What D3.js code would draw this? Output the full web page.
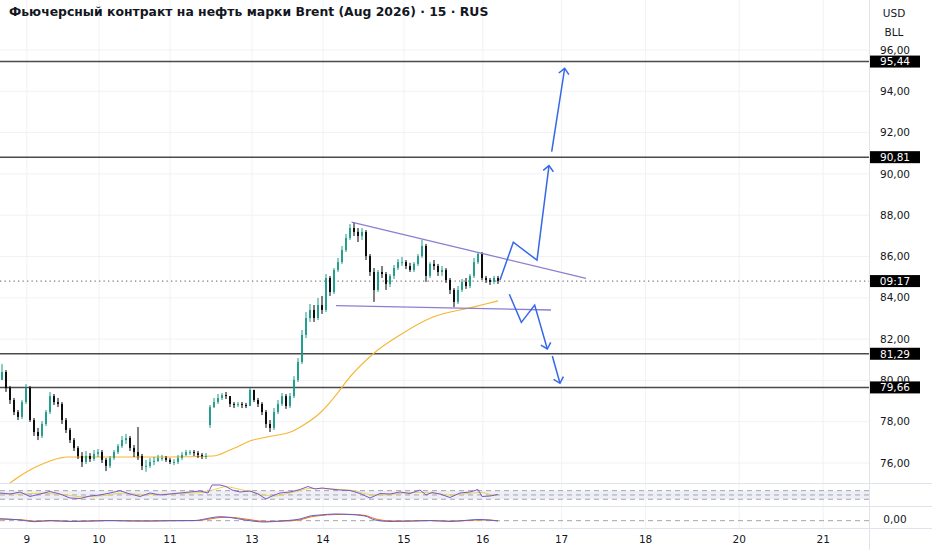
<!DOCTYPE html>
<meta charset="utf-8">
<script src="https://d3js.org/d3.v7.min.js"></script>
<style>
  body { margin: 0; background: #fff; }
  text { font-family: "DejaVu Sans", sans-serif; fill: #131722; }
</style>
<div id="chart"></div>
<script>
  // 15-min candles, one entry per bar
  const closes = [80.41,79.63,79.05,78.47,78.23,78.95,79.63,78.08,77.50,77.31,77.89,78.47,79.24,78.95,78.86,78.08,77.60,77.11,76.73,76.34,
    76.05,76.34,76.19,76.44,76.53,76.15,75.86,76.24,76.53,76.82,77.11,77.21,76.73,76.53,76.34,75.86,75.86,76.05,76.10,76.24,
    76.24,76.15,76.05,76.05,76.24,76.39,76.53,76.53,76.48,76.39,76.34,76.34,78.71,78.95,79.15,79.29,79.24,78.86,78.81,78.86,
    78.81,78.76,79.54,79.05,78.86,78.47,77.89,77.70,78.47,78.86,79.24,78.76,79.24,80.02,80.89,82.20,83.02,83.41,83.02,83.65,
    83.41,84.96,84.28,85.35,85.73,86.31,86.90,87.38,87.19,86.99,87.19,86.02,85.25,84.38,85.25,85.15,84.67,85.06,85.44,85.73,
    85.73,85.54,85.35,85.64,86.02,86.51,85.06,85.64,85.54,85.25,85.35,84.86,84.38,83.80,84.38,84.77,84.57,85.06,85.73,86.12,
    84.96,84.86,84.77,84.96,84.81];
  const highs = [80.79,80.50,79.73,79.15,78.57,79.05,79.82,79.73,78.18,77.70,78.03,78.57,79.44,79.34,79.15,78.95,78.18,77.70,77.21,76.82,
    76.53,76.58,76.48,76.63,76.68,76.63,76.24,76.34,76.63,76.92,77.31,77.41,77.31,76.87,77.74,76.44,76.15,76.24,76.29,76.39,
    76.39,76.34,76.24,76.19,76.39,76.53,76.63,76.63,76.63,76.58,76.48,76.48,78.81,79.15,79.34,79.39,79.44,79.24,78.95,78.95,
    78.95,78.91,79.63,79.54,79.15,78.95,78.57,78.08,78.66,79.05,79.39,79.34,79.39,80.21,81.08,82.44,83.31,83.70,83.65,83.99,
    84.09,85.15,85.06,85.44,85.93,86.51,87.09,87.57,87.67,87.38,87.38,87.28,86.12,85.44,85.35,85.54,85.25,85.15,85.59,85.88,
    85.98,85.83,85.69,85.73,86.12,86.80,86.61,85.73,85.83,85.64,85.54,85.44,84.96,84.47,84.57,84.91,84.96,85.15,85.93,86.22,
    86.22,85.06,84.96,85.06,85.06];
  const lows = [80.02,79.44,78.86,78.32,78.08,78.13,78.86,77.99,77.31,77.11,77.21,77.79,78.37,78.81,78.71,77.89,77.45,76.97,76.58,76.19,
    75.81,75.95,76.05,76.10,76.29,76.00,75.61,75.76,76.15,76.44,76.73,76.92,76.58,76.29,76.15,75.66,75.57,75.76,75.90,76.05,
    76.10,76.05,75.95,75.90,75.95,76.15,76.34,76.39,76.34,76.24,76.19,76.19,77.70,78.66,78.86,79.05,79.10,78.71,78.66,78.71,
    78.66,78.66,78.76,78.95,78.71,78.32,77.70,77.50,77.60,78.37,78.76,78.62,78.66,79.15,79.92,80.79,82.05,82.83,82.83,82.92,
    83.22,83.31,84.09,84.18,85.25,85.64,86.22,86.80,86.99,86.70,86.80,85.83,85.06,83.80,84.28,84.96,84.38,84.52,84.91,85.35,
    85.54,85.39,85.25,85.25,85.54,85.93,84.77,84.96,85.35,85.06,85.06,84.72,84.18,83.55,83.70,84.28,84.43,84.47,84.96,85.64,
    84.86,84.72,84.62,84.67,84.67];
  const firstOpen = 80.02;
  const gapBar = 52, gapOpen = 77.84;   // session gap after the weekend

  // moving average on price [bar, value]
  const ma = [[2,75.03],[4.5,75.37],[7,75.66],[9.5,75.90],[12,76.10],[14.5,76.24],[16.25,76.29],[24.5,76.29],[32.75,76.29],
    [42,76.29],[52.75,76.34],[57,76.63],[62.75,77.11],[66.25,77.26],[72.75,77.55],[75,77.79],[79.5,78.42],[84.5,79.54],
    [85.75,79.87],[92.75,81.28],[99.5,82.20],[107.75,83.07],[117.75,83.55],[124,83.85]];

  // day labels and the bar where each day starts
  const dayLabels = ["9","10","11","13","14","15","16","17","18","20","21"];
  const dayBars = [6.2, 24.25, 42, 62.5, 80.25, 100.5, 120.2, 139.9, 160.9, 184.3, 205.3];

  const priceTicks = [76,78,80,82,84,86,88,90,92,94,96];
  const levels = [95.44, 90.81, 81.29, 79.66];
  const countdown = "09:17";

  // drawings: triangle and projected paths [bar, price]
  const triUpper = [[87.4,87.67],[146,84.94]];
  const triLower = [[83.5,83.62],[137.25,83.41]];
  const upPath1 = [[124.5,84.86],[127.83,86.69],[133.75,85.82],[136.75,90.40]];
  const upPath2 = [[137.42,91.08],[140.67,95.11]];
  const downPath1 = [[126.83,84.17],[129.83,82.81],[133.17,83.65],[136.33,81.52]];
  const downPath2 = [[137.58,81.18],[139.5,79.86]];

  // RSI and its average [bar, value]
  const rsi = [[-0.5,59.1],[2,54.4],[4.5,63.7],[7,42.8],[9.5,54.4],[12,66.0],[14.5,54.4],[17,35.8],[19.5,33.5],[22,45.1],
    [24.5,49.8],[27,59.1],[29.5,69.8],[32,54.4],[34.5,42.8],[37,59.1],[39.5,49.8],[42,54.4],[44.5,59.1],[47,63.7],[49.5,68.4],
    [51.5,59.1],[52.5,96.3],[54.5,96.3],[56,89.3],[57.5,73.0],[59.5,63.7],[62,68.4],[64,54.4],[66,31.2],[67.5,45.1],[69.5,59.1],
    [72,63.7],[74.5,75.3],[76.5,89.3],[78.25,77.7],[80,82.3],[82,77.7],[84.5,73.0],[87,70.7],[89.5,56.7],[92,35.8],[94.5,56.7],
    [97,54.4],[99.5,63.7],[102,56.7],[104.5,73.0],[106,49.8],[107.5,61.4],[109.5,54.4],[112,38.1],[114.5,59.1],[117,63.7],
    [119,75.3],[120,42.8],[122,45.1],[124,52.1]];
  const rsiMa = [[-0.5,56],[5,55],[10,58],[15,52],[20,42],[25,46],[30,58],[35,52],[40,53],[45,57],[50,62],[53,75],[56,88],
    [59,78],[62,66],[65,52],[68,45],[71,55],[74,68],[77,80],[80,80],[84,76],[88,70],[92,52],[96,50],[100,58],[104,62],
    [108,58],[112,50],[116,56],[120,62],[122,52],[124,50]];

  // MACD line and signal
  const macdBars = [-0.5,4.5,8.25,12,17,22,27,32,37,42,48.25,52,54.5,57,60.75,65.75,69.5,74.5,77,79.5,83.25,87,90.75,93.25,97,102,107,112,117,119.5,124];
  const macdVals = [0.093,0.032,-0.049,0.008,-0.039,-0.016,0.008,-0.016,-0.016,0.0,0.008,0.126,0.188,0.15,0.032,-0.063,-0.016,0.079,0.221,0.269,0.316,0.292,0.221,0.032,-0.039,-0.016,0.008,-0.039,0.032,0.055,-0.016];
  const signalVals = [0.07,0.05,-0.02,-0.01,-0.025,-0.02,0.0,-0.005,-0.015,-0.005,0.0,0.08,0.15,0.16,0.08,-0.03,-0.03,0.04,0.17,0.24,0.29,0.30,0.25,0.09,-0.01,-0.02,0.0,-0.02,0.01,0.04,0.0];

  var W = 932, H = 550, plotW = 869;
  var mainBottom = 483, rsiTop = 483, rsiBottom = 506, macdBottom = 528;
  var upColor = "#1a9b88", downColor = "#000000";
  var fmt = function(v) { return d3.format(".2f")(v).replace(".", ","); };

  var svg = d3.select("#chart").append("svg")
      .attr("width", W).attr("height", H);

  var x = d3.scaleLinear().domain([-0.5, 216.75]).range([0, plotW]);
  var y = d3.scaleLinear().domain([76, 96]).range([463, 50]);
  var yRsi = d3.scaleLinear().domain([0, 100]).range([505.7, 484.2]);
  var yMacd = d3.scaleLinear().domain([-0.3, 0.6]).range([527, 508]);

  var defs = svg.append("defs");
  function clip(id, y0, y1) {
    defs.append("clipPath").attr("id", id).append("rect")
      .attr("x", 0).attr("y", y0).attr("width", plotW).attr("height", y1 - y0);
  }
  clip("cMain", 0, mainBottom);
  clip("cRsi", rsiTop, rsiBottom);
  clip("cMacd", rsiBottom, macdBottom);

  // grid
  var grid = svg.append("g");
  grid.selectAll(".vg").data(dayBars).enter().append("line")
    .attr("x1", function(d) { return x(d); }).attr("x2", function(d) { return x(d); })
    .attr("y1", 0).attr("y2", macdBottom)
    .attr("stroke", "#f0f2f6").attr("stroke-width", 1);
  grid.selectAll(".hg").data(priceTicks).enter().append("line")
    .attr("x1", 0).attr("x2", plotW)
    .attr("y1", function(d) { return y(d); }).attr("y2", function(d) { return y(d); })
    .attr("stroke", "#f0f2f6").attr("stroke-width", 1);

  // pane separators
  [mainBottom, rsiBottom, macdBottom].forEach(function(yy) {
    svg.append("line").attr("x1", 0).attr("x2", W).attr("y1", yy + 0.5).attr("y2", yy + 0.5)
      .attr("stroke", "#e0e3eb");
  });
  svg.append("line").attr("x1", plotW + 0.5).attr("x2", plotW + 0.5).attr("y1", 0).attr("y2", H)
    .attr("stroke", "#e0e3eb");

  var main = svg.append("g").attr("clip-path", "url(#cMain)");

  // levels
  main.selectAll(".lvl").data(levels).enter().append("line")
    .attr("x1", 0).attr("x2", plotW)
    .attr("y1", function(d) { return y(d); }).attr("y2", function(d) { return y(d); })
    .attr("stroke", "#4a4a4a").attr("stroke-width", 1.5);

  // current price dotted
  var last = closes[closes.length - 1];
  main.append("line").attr("x1", 0).attr("x2", plotW)
    .attr("y1", y(last)).attr("y2", y(last))
    .attr("stroke", "#7d7d7d").attr("stroke-width", 1.2).attr("stroke-dasharray", "1.3,3.2");

  // moving average
  var line = d3.line().x(function(d) { return x(d[0]); }).y(function(d) { return y(d[1]); }).curve(d3.curveMonotoneX);
  main.append("path").datum(ma).attr("d", line)
    .attr("fill", "none").attr("stroke", "#f5b631").attr("stroke-width", 1.1);

  // candles
  var candles = closes.map(function(c, i) {
    var o = i === 0 ? firstOpen : (i === gapBar ? gapOpen : closes[i - 1]);
    return {i: i, o: o, h: highs[i], l: lows[i], c: c};
  });
  var cg = main.append("g").selectAll("g").data(candles).enter().append("g");
  cg.append("line")
    .attr("x1", function(d) { return x(d.i); }).attr("x2", function(d) { return x(d.i); })
    .attr("y1", function(d) { return y(d.h); }).attr("y2", function(d) { return y(d.l); })
    .attr("stroke", function(d) { return d.c >= d.o ? upColor : downColor; })
    .attr("stroke-width", 1);
  cg.append("rect")
    .attr("x", function(d) { return x(d.i) - 0.9; })
    .attr("width", 1.8)
    .attr("y", function(d) { return y(Math.max(d.o, d.c)); })
    .attr("height", function(d) { return Math.max(1, Math.abs(y(d.o) - y(d.c))); })
    .attr("fill", function(d) { return d.c >= d.o ? upColor : downColor; });

  // triangle
  var straight = d3.line().x(function(d) { return x(d[0]); }).y(function(d) { return y(d[1]); });
  [triUpper, triLower].forEach(function(seg) {
    main.append("path").datum(seg).attr("d", straight)
      .attr("fill", "none").attr("stroke", "#8c7fd0").attr("stroke-width", 1.3);
  });

  // projected paths with open arrow heads
  function arrow(pts) {
    main.append("path").datum(pts).attr("d", straight)
      .attr("fill", "none").attr("stroke", "#3568e8").attr("stroke-width", 1.5)
      .attr("stroke-linejoin", "miter");
    var a = pts[pts.length - 2], b = pts[pts.length - 1];
    var ax = x(a[0]), ay = y(a[1]), bx = x(b[0]), by = y(b[1]);
    var ang = Math.atan2(by - ay, bx - ax);
    var len = 7.5, spread = 0.75;
    var head = [
      [bx - len * Math.cos(ang - spread), by - len * Math.sin(ang - spread)],
      [bx, by],
      [bx - len * Math.cos(ang + spread), by - len * Math.sin(ang + spread)]
    ];
    main.append("path").attr("d", d3.line()(head))
      .attr("fill", "none").attr("stroke", "#3568e8").attr("stroke-width", 1.5);
  }
  [upPath1, upPath2, downPath1, downPath2].forEach(arrow);

  // RSI pane
  var rsiG = svg.append("g").attr("clip-path", "url(#cRsi)");
  rsiG.append("rect").attr("x", 0).attr("width", plotW)
    .attr("y", yRsi(70)).attr("height", yRsi(30) - yRsi(70))
    .attr("fill", "#eeeef7");
  [70, 50, 30].forEach(function(v) {
    rsiG.append("line").attr("x1", 0).attr("x2", plotW).attr("y1", yRsi(v)).attr("y2", yRsi(v))
      .attr("stroke", "#a3a6ad").attr("stroke-width", 1).attr("stroke-dasharray", "5,4");
  });
  var rLine = d3.line().x(function(d) { return x(d[0]); }).y(function(d) { return yRsi(d[1]); });
  rsiG.append("path").datum(rsiMa).attr("d", rLine.curve(d3.curveMonotoneX))
    .attr("fill", "none").attr("stroke", "#e6d55c").attr("stroke-width", 1);
  rsiG.append("path").datum(rsi).attr("d", rLine.curve(d3.curveLinear))
    .attr("fill", "none").attr("stroke", "#7e57c2").attr("stroke-width", 1);

  // MACD pane
  var macdG = svg.append("g").attr("clip-path", "url(#cMacd)");
  macdG.append("line").attr("x1", 0).attr("x2", plotW).attr("y1", yMacd(0)).attr("y2", yMacd(0))
    .attr("stroke", "#a3a6ad").attr("stroke-width", 1).attr("stroke-dasharray", "5,4");
  var mLine = d3.line().x(function(d) { return x(macdBars[d]); }).curve(d3.curveMonotoneX);
  var idx = d3.range(macdBars.length);
  macdG.append("path").datum(idx).attr("d", mLine.y(function(d) { return yMacd(signalVals[d]); }))
    .attr("fill", "none").attr("stroke", "#ff6d00").attr("stroke-width", 1);
  macdG.append("path").datum(idx).attr("d", mLine.y(function(d) { return yMacd(macdVals[d]); }))
    .attr("fill", "none").attr("stroke", "#5b62d6").attr("stroke-width", 1);

  // right axis
  var ax = svg.append("g").attr("font-size", 10.5);
  ax.selectAll(".tk").data(priceTicks).enter().append("text")
    .attr("x", 895).attr("y", function(d) { return y(d); })
    .attr("dy", "0.35em").attr("text-anchor", "middle")
    .text(fmt);
  ax.append("text").attr("x", 895).attr("y", 519).attr("dy", "0.35em")
    .attr("text-anchor", "middle").text(fmt(0));
  ax.append("text").attr("x", 894).attr("y", 13).attr("dy", "0.35em").attr("text-anchor", "middle").text("USD");
  ax.append("text").attr("x", 894).attr("y", 32).attr("dy", "0.35em").attr("text-anchor", "middle").text("BLL");

  var tags = levels.map(function(v) { return {y: y(v), t: fmt(v)}; });
  tags.push({y: y(last), t: countdown});
  var tg = ax.selectAll(".tag").data(tags).enter().append("g");
  tg.append("rect").attr("x", 870).attr("width", 50)
    .attr("y", function(d) { return d.y - 6; }).attr("height", 12)
    .attr("fill", "#000");
  tg.append("text").attr("x", 895).attr("y", function(d) { return d.y; })
    .attr("dy", "0.36em").attr("text-anchor", "middle")
    .style("fill", "#fff").text(function(d) { return d.t; });

  // time axis
  svg.append("g").attr("font-size", 10.5).selectAll("text").data(dayLabels).enter().append("text")
    .attr("x", function(d, i) { return x(dayBars[i]); }).attr("y", 539)
    .attr("dy", "0.35em").attr("text-anchor", "middle")
    .text(function(d) { return d; });

  // title
  var title = svg.append("text").attr("x", 9).attr("y", 16)
    .attr("font-weight", "bold").attr("font-size", 12)
    .text("Фьючерсный контракт на нефть марки Brent (Aug 2026) · 15 · RUS");
  var tw = title.node().getComputedTextLength();
  title.attr("font-size", 12 * 480 / tw);
</script>
